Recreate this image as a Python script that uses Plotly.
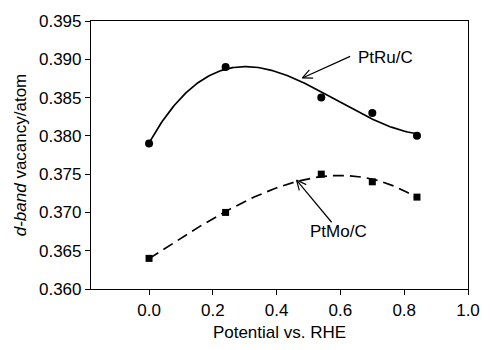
import numpy as np
import plotly.graph_objects as go

potential = [0.0, 0.24, 0.54, 0.70, 0.84]
ptru_vac = [0.379, 0.389, 0.385, 0.383, 0.380]
ptmo_vac = [0.364, 0.370, 0.375, 0.374, 0.372]
x_ticks = [0.0, 0.2, 0.4, 0.6, 0.8, 1.0]
y_ticks = [0.360, 0.365, 0.370, 0.375, 0.380, 0.385, 0.390, 0.395]

XR = [-0.182, 1.0]
YR = [0.360, 0.395]
W, H = 492, 350
ML, MR, MT, MB = 91, 14, 18, 59
PW, PH = W - ML - MR, H - MT - MB

FONT = "Liberation Sans, Arial, sans-serif"

xs = np.linspace(0.0, 0.84, 200)
fit_ru = np.polyval(np.polyfit(potential, ptru_vac, 3), xs)
fit_mo = np.polyval(np.polyfit(potential, ptmo_vac, 3), xs)

fig = go.Figure()
fig.add_trace(go.Scatter(x=xs, y=fit_ru, mode="lines",
                         line=dict(color="black", width=1.7), showlegend=False))
fig.add_trace(go.Scatter(x=xs, y=fit_mo, mode="lines",
                         line=dict(color="black", width=1.7, dash="11px,6px"), showlegend=False))
fig.add_trace(go.Scatter(x=potential, y=ptru_vac, mode="markers",
                         marker=dict(symbol="circle", size=8, color="black"), showlegend=False))
fig.add_trace(go.Scatter(x=potential, y=ptmo_vac, mode="markers",
                         marker=dict(symbol="square", size=7, color="black"), showlegend=False))


def px2d(px, py):
    x = XR[0] + (px - ML) / PW * (XR[1] - XR[0])
    y = YR[1] - (py - MT) / PH * (YR[1] - YR[0])
    return x, y


def arrow(tail, head, L=11, ang=25):
    (tx, ty), (hx, hy) = tail, head
    d = np.hypot(tx - hx, ty - hy)
    ux, uy = (tx - hx) / d, (ty - hy) / d
    segs = [(tail, head)]
    for s in (1, -1):
        a = np.radians(ang * s)
        rx = ux * np.cos(a) - uy * np.sin(a)
        ry = ux * np.sin(a) + uy * np.cos(a)
        segs.append(((hx + rx * L, hy + ry * L), head))
    for p, q in segs:
        x0, y0 = px2d(*p)
        x1, y1 = px2d(*q)
        fig.add_shape(type="line", x0=x0, y0=y0, x1=x1, y1=y1, xref="x", yref="y",
                      line=dict(color="black", width=1.2))


arrow((357, 54), (308, 76))
arrow((338, 223), (302, 180))

tx, ty = px2d(393, 55)
fig.add_annotation(x=tx, y=ty, text="PtRu/C", showarrow=False,
                   font=dict(family=FONT, size=17, color="black"))
tx, ty = px2d(345, 232)
fig.add_annotation(x=tx, y=ty, text="PtMo/C", showarrow=False,
                   font=dict(family=FONT, size=17, color="black"))

axis_common = dict(showline=True, linecolor="black", linewidth=1.2, mirror=True,
                   ticks="outside", ticklen=5, tickcolor="black", tickwidth=1.2,
                   showgrid=False, zeroline=False,
                   tickfont=dict(family=FONT, size=17, color="black"))

fig.update_xaxes(range=XR, tickvals=x_ticks, ticktext=[f"{v:.1f}" for v in x_ticks],
                 title=dict(text="Potential vs. RHE", standoff=7,
                            font=dict(family=FONT, size=17, color="black")),
                 **axis_common)
fig.update_yaxes(range=YR, tickvals=y_ticks, ticktext=[f"{v:.3f}" for v in y_ticks],
                 title=dict(text="<i>d-band</i> vacancy/atom", standoff=8,
                            font=dict(family=FONT, size=17, color="black")),
                 **axis_common)

fig.update_layout(width=W, height=H, margin=dict(l=ML, r=MR, t=MT, b=MB),
                  plot_bgcolor="white", paper_bgcolor="white",
                  font=dict(family=FONT, color="black"))

fig.write_html("out.html")
